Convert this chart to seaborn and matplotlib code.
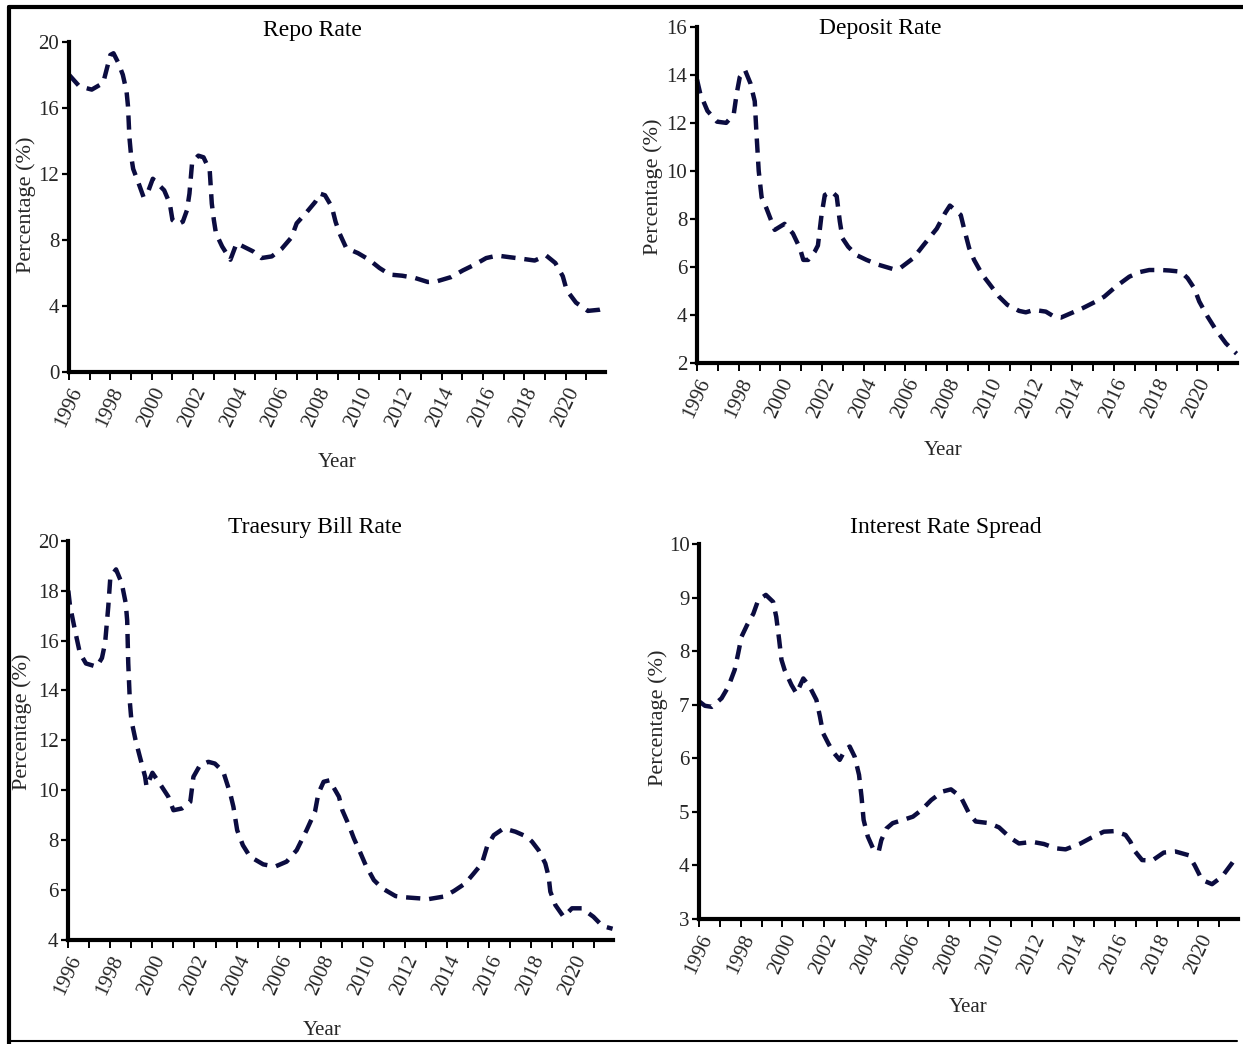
import numpy as np
import pandas as pd
import matplotlib
matplotlib.use("Agg")
import matplotlib.pyplot as plt
import seaborn as sns
from matplotlib.lines import Line2D

# ---------------- data ----------------
repo_year = [1996.00, 1996.50, 1997.10, 1997.65, 1998.00, 1998.15, 1998.37, 1998.60, 1998.78, 1998.85,
             1998.92, 1999.00, 1999.10, 1999.40, 1999.60, 1999.80, 2000.05, 2000.60, 2000.87, 2001.00,
             2001.27, 2001.50, 2001.70, 2001.82, 2001.95, 2002.25, 2002.50, 2002.80, 2002.90, 2003.00,
             2003.10, 2003.40, 2003.80, 2004.10, 2004.50, 2004.90, 2005.30, 2005.80, 2006.27, 2006.75,
             2007.00, 2007.50, 2007.90, 2008.13, 2008.37, 2008.70, 2008.88, 2009.07, 2009.40, 2009.96,
             2010.50, 2011.00, 2011.50, 2012.10, 2012.70, 2013.34, 2013.80, 2014.47, 2015.03, 2015.60,
             2016.16, 2016.70, 2017.30, 2017.93, 2018.50, 2019.06, 2019.50, 2019.86, 2020.05, 2020.50,
             2021.07, 2021.63, 2021.88]
repo_rate = [18.0, 17.3, 17.1, 17.5, 19.2, 19.3, 18.75, 18.0, 17.0, 16.1,
             14.2, 13.1, 12.3, 11.3, 10.6, 10.85, 11.7, 11.0, 10.2, 9.2,
             8.95, 9.1, 9.8, 10.8, 12.7, 13.1, 13.0, 12.2, 10.2, 9.2,
             8.4, 7.6, 6.8, 7.8, 7.55, 7.3, 6.9, 7.0, 7.45, 8.15,
             9.0, 9.7, 10.3, 10.8, 10.7, 10.0, 9.1, 8.4, 7.5, 7.2,
             6.8, 6.3, 5.9, 5.83, 5.7, 5.45, 5.5, 5.75, 6.15, 6.5,
             6.9, 7.05, 6.95, 6.85, 6.75, 7.05, 6.6, 5.8, 4.95, 4.2,
             3.7, 3.77, 3.85]

deposit_year = [1996.00, 1996.16, 1996.50, 1996.96, 1997.40, 1997.76, 1997.90, 1998.05, 1998.30, 1998.56,
                1998.77, 1998.85, 1998.96, 1999.10, 1999.33, 1999.73, 2000.20, 2000.60, 2000.93, 2001.10,
                2001.33, 2001.65, 2001.80, 2001.97, 2002.13, 2002.45, 2002.70, 2002.85, 2002.98, 2003.25,
                2003.65, 2004.13, 2004.70, 2005.40, 2005.73, 2006.37, 2006.85, 2007.50, 2007.90, 2008.13,
                2008.65, 2008.81, 2009.05, 2009.29, 2009.69, 2010.00, 2010.49, 2010.89, 2011.45, 2011.77,
                2012.17, 2012.73, 2013.13, 2013.45, 2013.93, 2014.49, 2015.13, 2015.53, 2016.09, 2016.73,
                2017.21, 2017.69, 2018.25, 2018.65, 2019.21, 2019.53, 2019.85, 2020.09, 2020.49, 2020.89,
                2021.37, 2021.77, 2021.88]
deposit_rate = [13.8, 13.2, 12.5, 12.05, 12.0, 12.35, 13.2, 13.9, 14.2, 13.65,
                12.9, 11.6, 10.0, 8.9, 8.45, 7.55, 7.8, 7.4, 6.8, 6.3,
                6.3, 6.65, 6.9, 8.15, 9.0, 9.15, 8.95, 7.9, 7.2, 6.85,
                6.5, 6.3, 6.1, 5.92, 5.95, 6.37, 6.9, 7.6, 8.25, 8.56,
                8.17, 7.6, 6.8, 6.3, 5.68, 5.33, 4.77, 4.43, 4.18, 4.12,
                4.22, 4.15, 3.94, 3.9, 4.08, 4.29, 4.57, 4.77, 5.19, 5.6,
                5.79, 5.88, 5.88, 5.86, 5.81, 5.54, 5.12, 4.57, 3.94, 3.39,
                2.83, 2.49, 2.4]

tbill_year = [1996.00, 1996.08, 1996.32, 1996.55, 1996.84, 1997.35, 1997.60, 1997.75, 1997.90, 1998.00,
              1998.27, 1998.54, 1998.73, 1998.80, 1998.85, 1998.93, 1999.00, 1999.20, 1999.40, 1999.65,
              1999.72, 2000.00, 2000.44, 2000.75, 2001.00, 2001.40, 2001.80, 2001.95, 2002.26, 2002.66,
              2002.97, 2003.37, 2003.70, 2003.85, 2004.03, 2004.30, 2004.64, 2005.27, 2005.83, 2006.38,
              2006.86, 2007.33, 2007.73, 2007.89, 2008.14, 2008.42, 2008.87, 2009.03, 2009.34, 2009.58,
              2009.90, 2010.14, 2010.53, 2010.93, 2011.56, 2012.03, 2012.67, 2013.14, 2013.85, 2014.33,
              2014.88, 2015.28, 2015.67, 2015.91, 2016.23, 2016.70, 2017.26, 2017.80, 2018.05, 2018.36,
              2018.68, 2018.84, 2018.92, 2019.16, 2019.55, 2019.95, 2020.42, 2020.97, 2021.40, 2021.88]
tbill_rate = [18.0, 17.4, 16.4, 15.5, 15.08, 14.95, 15.3, 15.9, 17.35, 18.55,
              18.85, 18.3, 17.5, 16.8, 15.1, 13.5, 12.8, 12.0, 11.35, 10.55,
              10.15, 10.7, 10.15, 9.75, 9.2, 9.27, 9.54, 10.54, 11.0, 11.14,
              11.07, 10.74, 9.87, 9.34, 8.4, 7.8, 7.34, 7.03, 6.94, 7.14,
              7.6, 8.4, 9.14, 9.87, 10.34, 10.4, 9.74, 9.2, 8.6, 8.07,
              7.47, 7.0, 6.4, 6.07, 5.76, 5.71, 5.67, 5.64, 5.74, 5.96,
              6.27, 6.67, 7.07, 7.74, 8.2, 8.47, 8.34, 8.14, 7.94, 7.6,
              7.07, 6.54, 5.94, 5.4, 4.93, 5.27, 5.27, 4.93, 4.56, 4.45]

spread_year = [1996.00, 1996.27, 1996.60, 1997.07, 1997.40, 1997.70, 1997.87, 1998.03, 1998.30, 1998.60,
               1998.83, 1999.20, 1999.55, 1999.70, 1999.84, 1999.95, 2000.10, 2000.43, 2000.67, 2001.00,
               2001.30, 2001.63, 2001.80, 2001.95, 2002.20, 2002.43, 2002.75, 2003.00, 2003.23, 2003.47,
               2003.68, 2003.80, 2003.90, 2004.10, 2004.35, 2004.62, 2004.75, 2005.00, 2005.30, 2005.80,
               2006.27, 2006.67, 2007.15, 2007.70, 2008.10, 2008.57, 2008.97, 2009.29, 2009.93, 2010.41,
               2010.97, 2011.37, 2012.01, 2012.57, 2013.13, 2013.61, 2014.33, 2014.81, 2015.45, 2015.93,
               2016.49, 2016.73, 2016.89, 2017.29, 2017.77, 2018.33, 2018.89, 2019.53, 2019.82, 2020.17,
               2020.65, 2021.13, 2021.61, 2021.86]
spread_rate = [7.06, 6.98, 6.96, 7.12, 7.34, 7.65, 7.96, 8.27, 8.49, 8.7,
               8.95, 9.05, 8.92, 8.64, 8.21, 7.84, 7.65, 7.37, 7.21, 7.49,
               7.34, 7.09, 6.78, 6.47, 6.28, 6.12, 5.97, 6.15, 6.22, 6.03,
               5.69, 5.28, 4.85, 4.54, 4.32, 4.25, 4.47, 4.69, 4.79, 4.85,
               4.91, 5.03, 5.22, 5.38, 5.42, 5.28, 4.97, 4.82, 4.79, 4.71,
               4.51, 4.41, 4.44, 4.4, 4.32, 4.3, 4.41, 4.51, 4.63, 4.64,
               4.57, 4.44, 4.29, 4.1, 4.09, 4.24, 4.26, 4.19, 4.0, 3.73,
               3.65, 3.79, 4.04, 4.18]

titles = ["Repo Rate", "Deposit Rate", "Traesury Bill Rate", "Interest Rate Spread"]
year_ticks = list(range(1996, 2022))
year_labels = [str(y) if y % 2 == 0 else "" for y in year_ticks]
x_label = "Year"
y_label = "Percentage (%)"

# ---------------- style ----------------
sns.set_theme(style="white")
plt.rcParams["font.family"] = ["Liberation Serif", "DejaVu Serif"]
plt.rcParams["axes.unicode_minus"] = False

line_color = "#0b0c40"

W, H = 1243, 1044
fig = plt.figure(figsize=(W / 100, H / 100), dpi=100)

panels = [
    dict(title=titles[0], year=repo_year, val=repo_rate,
         rect=[69 / W, 1 - 372 / H, 536 / W, 330.3 / H],
         ylim=(0, 20), yticks=np.arange(0, 21, 4),
         title_pos=(0.455, 1.035), xlab=(0.50, -0.2755), ylab=(-0.080, 0.506)),
    dict(title=titles[1], year=deposit_year, val=deposit_rate,
         rect=[697 / W, 1 - 363.3 / H, 540 / W, 336.6 / H],
         ylim=(2, 16), yticks=np.arange(2, 17, 2),
         title_pos=(0.339, 0.996), xlab=(0.456, -0.258), ylab=(-0.0815, 0.524)),
    dict(title=titles[2], year=tbill_year, val=tbill_rate,
         rect=[68.3 / W, 1 - 940 / H, 544.7 / W, 399.3 / H],
         ylim=(4, 20), yticks=np.arange(4, 21, 2),
         title_pos=(0.453, 1.034), xlab=(0.466, -0.2254), ylab=(-0.085, 0.546)),
    dict(title=titles[3], year=spread_year, val=spread_rate,
         rect=[699.3 / W, 1 - 919 / H, 538.7 / W, 375 / H],
         ylim=(3, 10), yticks=np.arange(3, 11, 1),
         title_pos=(0.458, 1.045), xlab=(0.499, -0.2347), ylab=(-0.0767, 0.536)),
]

for p in panels:
    ax = fig.add_axes(p["rect"])
    df = pd.DataFrame({"Year": p["year"], "Value": p["val"]})
    sns.lineplot(data=df, x="Year", y="Value", ax=ax, color=line_color,
                 linewidth=3.2, sort=False, estimator=None, clip_on=False)
    for ln in ax.get_lines():
        ln.set_dashes([3.2, 2.0])   # scaled by the line width
        ln.set_dash_capstyle("butt")
    ax.set_xlim(1996, 2021.9)
    ax.set_ylim(*p["ylim"])
    ax.set_xticks(year_ticks)
    ax.set_xticklabels(year_labels, rotation=65, ha="right",
                       rotation_mode="anchor", fontsize=15)
    ax.set_yticks(p["yticks"])
    ax.set_yticklabels([str(int(v)) for v in p["yticks"]], fontsize=15)
    ax.tick_params(axis="x", direction="out", length=6, width=1.4,
                   color="black", pad=3, bottom=True)
    ax.tick_params(axis="y", direction="out", length=5, width=1.6,
                   color="black", pad=2, left=True)
    for s in ["top", "right"]:
        ax.spines[s].set_visible(False)
    for s in ["left", "bottom"]:
        ax.spines[s].set_visible(True)
        ax.spines[s].set_color("black")
        ax.spines[s].set_linewidth(3.0)
    ax.set_xlabel(x_label, fontsize=15)
    ax.xaxis.set_label_coords(*p["xlab"])
    ax.xaxis.label.set_va("center")
    ax.set_ylabel(y_label, fontsize=16)
    ax.yaxis.set_label_coords(*p["ylab"])
    ax.yaxis.label.set_va("center")
    ax.text(p["title_pos"][0], p["title_pos"][1], p["title"], transform=ax.transAxes,
            ha="center", va="center", fontsize=17, color="black")
    ax.grid(False)

# outer frame of the figure
fig.add_artist(Line2D([9 / W, 1.0], [1 - 7 / H, 1 - 7 / H], transform=fig.transFigure,
                      color="black", linewidth=3.0))
fig.add_artist(Line2D([9 / W, 9 / W], [0, 1 - 7 / H], transform=fig.transFigure,
                      color="black", linewidth=3.0))
fig.add_artist(Line2D([9 / W, 1237 / W], [1 - 1041 / H, 1 - 1041 / H], transform=fig.transFigure,
                      color="black", linewidth=1.5))

fig.savefig("out.png", dpi=100, facecolor="white")
